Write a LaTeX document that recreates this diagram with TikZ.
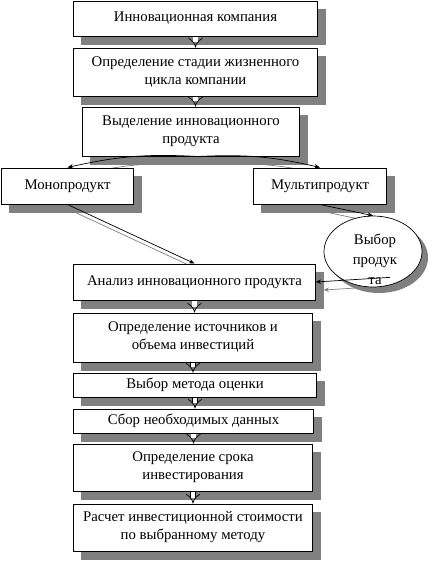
\documentclass[tikz,border=0pt]{standalone}
\usepackage{fontspec}
\setmainfont{Liberation Serif}
\usetikzlibrary{arrows.meta,shapes.geometric,calc,backgrounds}

\tikzset{
  blok/.style={draw,line width=0.7pt,fill=white,align=center,inner sep=2pt},
  oval/.style={ellipse,draw,line width=0.5pt,fill=white,inner sep=0pt},
  ten/.style={fill=gray},
  dvoj/.style={double,double distance=1.1mm,line width=0.5pt,-{Implies}},
  svyaz/.style={line width=0.5pt,-{Stealth[length=1.4mm,width=1.1mm]}},
}

\begin{document}
\begin{tikzpicture}[x=0.025cm,y=-0.025cm,
    every node/.style={font=\fontsize{10.5}{12.8}\selectfont}]
  \useasboundingbox (0,0) rectangle (430,562);
  % Bloki
  \node[blok,minimum width=6.075cm,minimum height=0.875cm] (komp) at (195.5,18.5)
    {Инновационная компания};
  \node[blok,minimum width=6.075cm,minimum height=1.2cm] (stadia) at (195.5,72)
    {Определение стадии жизненного\\цикла компании};
  \node[blok,minimum width=5.4cm,minimum height=1.225cm] (vydel) at (191,131.5)
    {Выделение инновационного\\продукта};
  \node[blok,minimum width=3.275cm,minimum height=0.9cm] (mono) at (67.5,186)
    {Монопродукт};
  \node[blok,minimum width=3.3cm,minimum height=0.9cm] (multi) at (320,186)
    {Мультипродукт};
  \node[oval,minimum width=2.45cm,minimum height=1.775cm] (vybor) at (373,251.5) {};
  \node[align=center,inner sep=0pt] (vyborTxt) at (375,259)
    {Выбор\\[1.4pt]продук\\[1.4pt]та};
  \node[blok,minimum width=6.025cm,minimum height=0.9cm] (analiz) at (194.5,282)
    {Анализ инновационного продукта};
  \node[blok,minimum width=5.95cm,minimum height=1.225cm] (istoch) at (193,337.5)
    {Определение источников и\\объема инвестиций};
  \node[blok,minimum width=6.05cm,minimum height=0.6cm] (metod) at (195,385)
    {Выбор метода оценки};
  \node[blok,minimum width=5.975cm,minimum height=0.6cm] (sbor) at (193.5,421)
    {Сбор необходимых данных};
  \node[blok,minimum width=5.95cm,minimum height=1.175cm] (srok) at (193,467.5)
    {Определение срока\\инвестирования};
  \node[blok,minimum width=5.95cm,minimum height=1.175cm] (raschet) at (193,527.5)
    {Расчет инвестиционной стоимости\\по выбранному методу};
  \coordinate (razv) at ($(vydel.south)+(7,0)$);
  \coordinate (vyhod) at ($(vybor.south)+(17,-10)$);
  % Тени блоков и связей
  \begin{scope}[on background layer]
    \foreach \n in {komp,stadia,vydel,mono,multi,analiz,istoch,metod,sbor,srok,raschet}
      \fill[ten] ($(\n.north west)+(8,8)$) rectangle ($(\n.south east)+(8,8)$);
    \fill[ten] ($(vybor.center)+(6,6)$) ellipse [x radius=1.225cm,y radius=0.8875cm];
    \draw[svyaz,gray] ($(razv)+(8,8)$) to[bend right=8] ($(mono.north)+(8,8)$);
    \draw[svyaz,gray] ($(razv)+(8,8)$) to[bend left=8] ($(multi.north)+(8,8)$);
    \draw[svyaz,gray] ($(mono.south)+(8,8)$) -- ($(analiz.north)+(8,8)$);
    \draw[svyaz,gray] ($(multi.south)+(8,8)$) -- ($(vybor.north)+(8,8)$);
    \draw[svyaz,gray] ($(vyhod)+(8,8)$) -- ($(analiz.east)+(8,8)$);
  \end{scope}
  % Связи
  \draw[svyaz] (razv) to[bend right=8] (mono.north);
  \draw[svyaz] (razv) to[bend left=8] (multi.north);
  \draw[svyaz] (mono.south) -- (analiz.north);
  \draw[svyaz] (multi.south) -- (vybor.north);
  \draw[svyaz] (vyhod) -- (analiz.east);
  \foreach \a/\b in {komp/stadia,stadia/vydel,analiz/istoch,istoch/metod,
                     metod/sbor,sbor/srok,srok/raschet}
    \draw[dvoj] (\a.south) -- (\a.south |- \b.north);
\end{tikzpicture}
\end{document}
